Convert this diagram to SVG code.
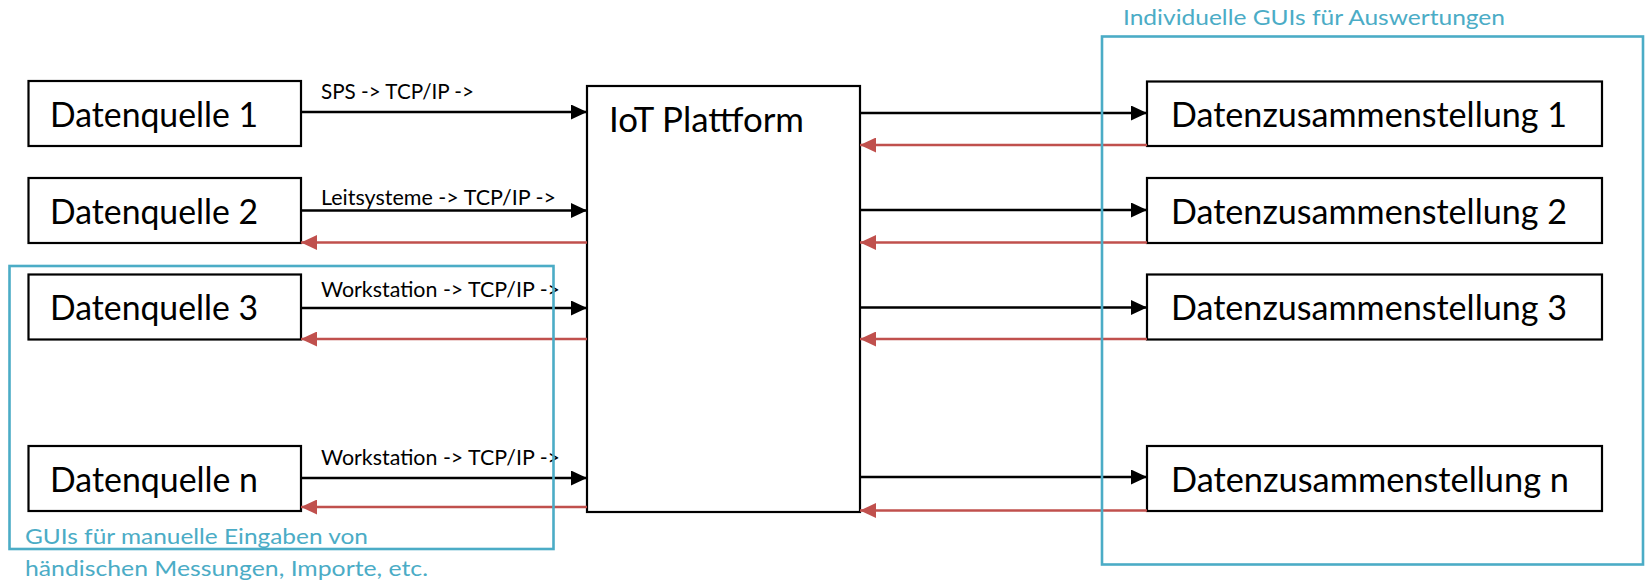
<svg xmlns="http://www.w3.org/2000/svg" width="1646" height="583" viewBox="0 0 1646 583">
<style>
text{font-family:Lato,"Liberation Sans",sans-serif;}
.box{fill:#fff;stroke:#000;stroke-width:2.2;}
.lbl{font-size:34px;fill:#000;}
.alb{font-size:21px;fill:#000;}
.blt{font-size:21.5px;fill:#4BACC6;}
.fw{stroke:#000;stroke-width:2.7;fill:none;marker-end:url(#ab);}
.bw{stroke:#C0504D;stroke-width:2.7;fill:none;marker-end:url(#ar);}
.grp{fill:none;stroke:#4BACC6;stroke-width:2.6;}
</style>
<defs>
<marker id="ab" markerUnits="userSpaceOnUse" markerWidth="16" markerHeight="15" refX="16" refY="7.5" orient="auto"><path d="M0,0 L16,7.5 L0,15 z" fill="#000"/></marker>
<marker id="ar" markerUnits="userSpaceOnUse" markerWidth="16" markerHeight="15" refX="16" refY="7.5" orient="auto"><path d="M0,0 L16,7.5 L0,15 z" fill="#C0504D"/></marker>
</defs>
<g id="q1"><rect class="box" x="28.5" y="81" width="272.5" height="65"/><text class="lbl" x="50" y="127" textLength="208" lengthAdjust="spacingAndGlyphs">Datenquelle 1</text></g>
<g id="q2"><rect class="box" x="28.5" y="178" width="272.5" height="65"/><text class="lbl" x="50" y="224" textLength="208" lengthAdjust="spacingAndGlyphs">Datenquelle 2</text></g>
<g id="q3"><rect class="box" x="28.5" y="274.5" width="272.5" height="65"/><text class="lbl" x="50" y="320" textLength="208" lengthAdjust="spacingAndGlyphs">Datenquelle 3</text></g>
<g id="qn"><rect class="box" x="28.5" y="446" width="272.5" height="65"/><text class="lbl" x="50" y="492" textLength="208" lengthAdjust="spacingAndGlyphs">Datenquelle n</text></g>
<g id="iot"><rect class="box" x="587" y="86" width="273" height="426"/><text class="lbl" x="609" y="131.5" textLength="195" lengthAdjust="spacingAndGlyphs">IoT Plattform</text></g>
<g id="d1"><rect class="box" x="1147" y="81.5" width="455" height="64.5"/><text class="lbl" x="1171" y="127" textLength="396" lengthAdjust="spacingAndGlyphs">Datenzusammenstellung 1</text></g>
<g id="d2"><rect class="box" x="1147" y="178" width="455" height="65"/><text class="lbl" x="1171" y="224" textLength="396" lengthAdjust="spacingAndGlyphs">Datenzusammenstellung 2</text></g>
<g id="d3"><rect class="box" x="1147" y="274.5" width="455" height="65"/><text class="lbl" x="1171" y="320" textLength="396" lengthAdjust="spacingAndGlyphs">Datenzusammenstellung 3</text></g>
<g id="dn"><rect class="box" x="1147" y="446" width="455" height="65"/><text class="lbl" x="1171" y="492" textLength="398" lengthAdjust="spacingAndGlyphs">Datenzusammenstellung n</text></g>
<g id="connectors">
<line class="fw" x1="301" y1="112" x2="587" y2="112"/>
<line class="fw" x1="301" y1="210.5" x2="587" y2="210.5"/>
<line class="bw" x1="587" y1="242.5" x2="301" y2="242.5"/>
<line class="fw" x1="301" y1="308" x2="587" y2="308"/>
<line class="bw" x1="587" y1="339" x2="301" y2="339"/>
<line class="fw" x1="301" y1="478" x2="587" y2="478"/>
<line class="bw" x1="587" y1="507" x2="301" y2="507"/>
<line class="fw" x1="860" y1="113" x2="1147" y2="113"/>
<line class="bw" x1="1147" y1="145" x2="860" y2="145"/>
<line class="fw" x1="860" y1="210" x2="1147" y2="210"/>
<line class="bw" x1="1147" y1="242.5" x2="860" y2="242.5"/>
<line class="fw" x1="860" y1="307.5" x2="1147" y2="307.5"/>
<line class="bw" x1="1147" y1="339" x2="860" y2="339"/>
<line class="fw" x1="860" y1="477" x2="1147" y2="477"/>
<line class="bw" x1="1147" y1="510.5" x2="860" y2="510.5"/>
<text class="alb" x="321" y="98.5" textLength="153" lengthAdjust="spacingAndGlyphs">SPS -&gt; TCP/IP -&gt;</text>
<text class="alb" x="321" y="205" textLength="235" lengthAdjust="spacingAndGlyphs">Leitsysteme -&gt; TCP/IP -&gt;</text>
<text class="alb" x="321" y="297" textLength="239" lengthAdjust="spacingAndGlyphs">Workstation -&gt; TCP/IP -&gt;</text>
<text class="alb" x="321" y="464.5" textLength="239" lengthAdjust="spacingAndGlyphs">Workstation -&gt; TCP/IP -&gt;</text>
</g>
<g id="gui-left">
<rect class="grp" x="9.5" y="266" width="544" height="283"/>
<text class="blt" x="25" y="544" textLength="343" lengthAdjust="spacingAndGlyphs">GUIs für manuelle Eingaben von</text>
<text class="blt" x="25" y="576" textLength="403" lengthAdjust="spacingAndGlyphs">händischen Messungen, Importe, etc.</text>
</g>
<g id="gui-right">
<rect class="grp" x="1102" y="36.5" width="541" height="528"/>
<text class="blt" x="1123" y="25" textLength="382" lengthAdjust="spacingAndGlyphs">Individuelle GUIs für Auswertungen</text>
</g>
</svg>
